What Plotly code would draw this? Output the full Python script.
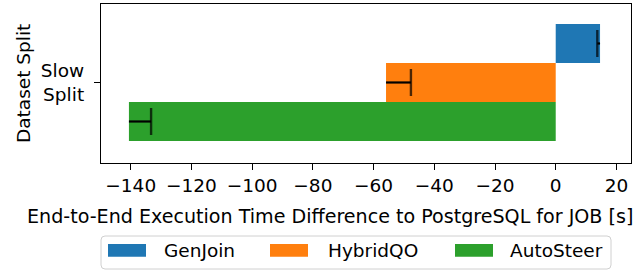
import plotly.graph_objects as go

# ---- data ----
categories = ["Slow<br>Split"]
methods = ["GenJoin", "HybridQO", "AutoSteer"]
colors = ["#1f77b4", "#ff7f0e", "#2ca02c"]
mean_diff = [14.6, -55.9, -140.6]
err = [0.9, 8.2, 7.3]
x_ticks = [-140, -120, -100, -80, -60, -40, -20, 0, 20]
x_tick_labels = [str(v).replace("-", "\u2212") for v in x_ticks]

# ---- geometry helpers (pixel -> paper) ----
W, H = 640, 271
L, R, T, B = 101, 631, 4, 163
FS = 18.5


def px(x):
    return (x - L) / (R - L)


def py(y):
    return (B - y) / (B - T)


bar_w = 0.25
fig = go.Figure()

for i, m in enumerate(methods):
    ypos = (1 - i) * bar_w
    fig.add_trace(go.Bar(
        x=[mean_diff[i]], y=[ypos], orientation="h", width=bar_w,
        marker=dict(color=colors[i], line=dict(width=0)),
        name=m, showlegend=False,
    ))

for i, m in enumerate(methods):
    ypos = (1 - i) * bar_w
    v = mean_diff[i]
    sgn = 1 if v >= 0 else -1
    cap = v - sgn * err[i]
    fig.add_trace(go.Scatter(
        x=[v, cap], y=[ypos, ypos], mode="lines+markers",
        line=dict(color="black", width=2.2),
        marker=dict(symbol="line-ns", size=[0, 19.3], color="black",
                    line=dict(color="black", width=2.4)),
        showlegend=False, hoverinfo="skip",
    ))

axis_common = dict(showline=True, mirror=True, linecolor="black", linewidth=1.3,
                   ticks="outside", ticklen=6, tickwidth=1.3, tickcolor="black",
                   showgrid=False, zeroline=False)

fig.update_layout(
    width=W, height=H,
    margin=dict(l=L, r=W - R, t=T, b=H - B, pad=0),
    paper_bgcolor="white", plot_bgcolor="white",
    font=dict(family="DejaVu Sans", size=FS, color="black"),
    barmode="overlay",
    xaxis=dict(range=[-149.8, 24.8], tickvals=x_ticks, ticktext=x_tick_labels, **axis_common),
    yaxis=dict(range=[-0.516, 0.503], tickvals=[0], ticktext=categories,
               ticklabelstandoff=6, **axis_common),
)

ann = []
ann.append(dict(text="End-to-End Execution Time Difference to PostgreSQL for JOB [s]",
                x=px(329.5), y=py(216), xref="paper", yref="paper", showarrow=False,
                xanchor="center", yanchor="middle", font=dict(size=19.1)))
ann.append(dict(text="Dataset Split", x=px(23), y=py(84), xref="paper", yref="paper",
                showarrow=False, textangle=-90, xanchor="center", yanchor="middle",
                font=dict(size=FS)))

# manual legend
lx0, lx1, ly0, ly1 = 101, 611, 236, 269
rx, ry = 4 / (R - L), 4 / (B - T)
X0, X1, Y0, Y1 = px(lx0), px(lx1), py(ly1), py(ly0)
path = (f"M{X0+rx},{Y0} L{X1-rx},{Y0} Q{X1},{Y0} {X1},{Y0+ry} "
        f"L{X1},{Y1-ry} Q{X1},{Y1} {X1-rx},{Y1} L{X0+rx},{Y1} Q{X0},{Y1} {X0},{Y1-ry} "
        f"L{X0},{Y0+ry} Q{X0},{Y0} {X0+rx},{Y0} Z")
shapes = [dict(type="path", path=path, xref="paper", yref="paper",
               line=dict(color="#d0d0d0", width=1), fillcolor="white")]
patch_x = [108, 270, 455]
text_x = [162, 326, 508]
for i, m in enumerate(methods):
    shapes.append(dict(type="rect", xref="paper", yref="paper",
                       x0=px(patch_x[i]), x1=px(patch_x[i] + 38),
                       y0=py(256.7), y1=py(244), fillcolor=colors[i], line=dict(width=0)))
    ann.append(dict(text=m, x=px(text_x[i]), y=py(251), xref="paper", yref="paper",
                    showarrow=False, xanchor="left", yanchor="middle", font=dict(size=FS)))

fig.update_layout(annotations=ann, shapes=shapes)
fig.write_html("out.html", config={"displayModeBar": False},
               post_script="document.body.style.margin='0';document.body.style.padding='0';")
